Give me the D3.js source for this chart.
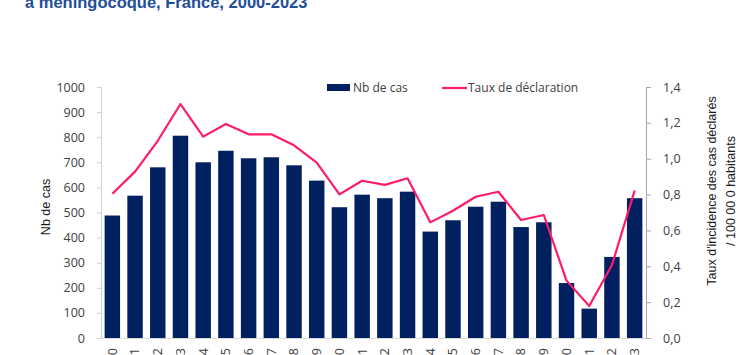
<!DOCTYPE html>
<html>
<head>
<meta charset="utf-8">
<script src="https://cdn.jsdelivr.net/npm/d3@7"></script>
<style>
  html, body { margin: 0; padding: 0; background: #fff; }
  svg { display: block; }
</style>
</head>
<body>
<svg id="chart" width="756" height="355"></svg>
<script>
const years = ["2000","2001","2002","2003","2004","2005","2006","2007","2008","2009","2010","2011","2012","2013","2014","2015","2016","2017","2018","2019","2020","2021","2022","2023"];
const cases = [488, 567, 680, 806, 700, 746, 716, 720, 688, 627, 521, 571, 557, 583, 424, 469, 523, 543, 442, 461, 219, 117, 323, 557];
const rates = [0.805, 0.928, 1.10, 1.305, 1.123, 1.194, 1.136, 1.136, 1.075, 0.978, 0.801, 0.877, 0.854, 0.891, 0.645, 0.710, 0.788, 0.816, 0.658, 0.686, 0.320, 0.178, 0.407, 0.822];
const leftTicks = [0, 100, 200, 300, 400, 500, 600, 700, 800, 900, 1000];
const rightTicks = [0, 0.2, 0.4, 0.6, 0.8, 1.0, 1.2, 1.4];
const title = "à méningocoque, France, 2000-2023";
const seriesNames = ["Nb de cas", "Taux de déclaration"];
const leftTitle = "Nb de cas";
const rightTitle = ["Taux d'incidence des cas déclarés", "/ 100 00 0 habitants"];

const svg = d3.select("#chart");
const X0 = 101, X1 = 646, Y0 = 338, Y1 = 87;
const navy = "#002060", pink = "#FF1A6E", txt = "#404040";
const tickFont = "'Open Sans', sans-serif";

const x = d3.scaleBand().domain(years).range([X0, X1]).paddingInner(0.32).paddingOuter(0.16);
const yL = d3.scaleLinear().domain([0, 1000]).range([Y0, Y1]);
const yR = d3.scaleLinear().domain([0, 1.4]).range([Y0, Y1]);

// Title (partially cropped at top)
svg.append("text").attr("x", 25).attr("y", 8)
  .attr("font-family", "'Liberation Sans', Arial, sans-serif")
  .attr("font-weight", "bold").attr("font-size", 16.5)
  .attr("fill", "#1F4E99").text(title);

// Bars
svg.append("g").selectAll("rect").data(years).join("rect")
  .attr("x", d => x(d)).attr("width", x.bandwidth())
  .attr("y", (d, i) => yL(cases[i]))
  .attr("height", (d, i) => Y0 - yL(cases[i]))
  .attr("fill", navy);

// Left axis
const axL = svg.append("g").attr("transform", `translate(${X0},0)`)
  .call(d3.axisLeft(yL).tickValues(leftTicks).tickSize(4).tickPadding(12).tickFormat(d3.format("d")));
axL.select(".domain").attr("stroke", "#d0d0d0");
axL.selectAll(".tick line").attr("stroke", "#d0d0d0");
axL.selectAll(".tick text").attr("font-family", tickFont).attr("font-size", 12.5).attr("fill", txt);

// Right axis
const axR = svg.append("g").attr("transform", `translate(${X1},0)`)
  .call(d3.axisRight(yR).tickValues(rightTicks).tickSize(5).tickPadding(12)
    .tickFormat(d => d3.format(".1f")(d).replace(".", ",")));
axR.select(".domain").attr("stroke", "#a6a6a6");
axR.selectAll(".tick line").attr("stroke", "#a6a6a6");
axR.selectAll(".tick text").attr("font-family", tickFont).attr("font-size", 12.5).attr("fill", txt);

// Bottom axis
const axB = svg.append("g").attr("transform", `translate(0,${Y0})`)
  .call(d3.axisBottom(x).tickSize(0).tickPadding(0));
axB.select(".domain").attr("stroke", "#d9d9d9");
axB.selectAll(".tick text")
  .attr("font-family", tickFont).attr("font-size", 12.5).attr("fill", txt)
  .attr("text-anchor", "end").attr("dy", "0.35em")
  .attr("transform", "translate(0,10) rotate(-90)");

// Line
const line = d3.line().x((d, i) => x(years[i]) + x.bandwidth() / 2).y(d => yR(d));
svg.append("path").datum(rates).attr("d", line)
  .attr("fill", "none").attr("stroke", pink).attr("stroke-width", 2.2)
  .attr("stroke-linejoin", "round");

// Axis titles
svg.append("text").attr("transform", `translate(50,207) rotate(-90)`)
  .attr("text-anchor", "middle")
  .attr("font-family", "'Liberation Sans Narrow', 'Liberation Sans', sans-serif")
  .attr("font-size", 12.5).attr("fill", "#1a1a1a").text(leftTitle);
const rt = svg.append("text").attr("transform", `translate(716,191) rotate(-90)`)
  .attr("text-anchor", "middle")
  .attr("font-family", "'Liberation Sans Narrow', 'Liberation Sans', sans-serif")
  .attr("font-size", 12.5).attr("fill", "#1a1a1a");
rt.selectAll("tspan").data(rightTitle).join("tspan")
  .attr("x", 0).attr("dy", (d, i) => i === 0 ? 0 : 19).text(d => d);

// Legend
const lg = svg.append("g");
lg.append("rect").attr("x", 327).attr("y", 84).attr("width", 23).attr("height", 7).attr("fill", navy);
lg.append("text").attr("x", 353).attr("y", 88).attr("dy", "0.35em")
  .attr("font-family", tickFont).attr("font-size", 12).attr("fill", txt).text(seriesNames[0]);
lg.append("line").attr("x1", 442).attr("x2", 467).attr("y1", 88).attr("y2", 88)
  .attr("stroke", pink).attr("stroke-width", 2.2);
lg.append("text").attr("x", 468).attr("y", 88).attr("dy", "0.35em")
  .attr("font-family", tickFont).attr("font-size", 12).attr("fill", txt).text(seriesNames[1]);
</script>
</body>
</html>
